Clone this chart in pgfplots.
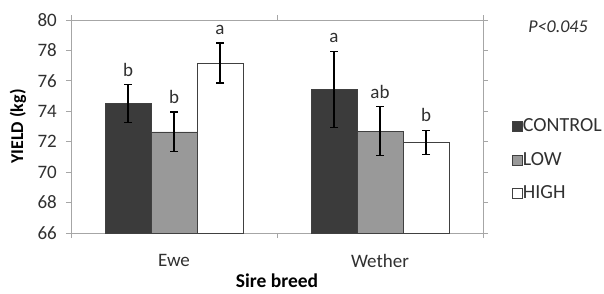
\documentclass[border=0pt]{standalone}
\usepackage{pgfplots}
\pgfplotsset{compat=1.18}
\usepackage{pgfplotstable}
\usepackage{fontspec}
\setmainfont{Carlito}
\definecolor{ctrl}{HTML}{3B3B3B}
\definecolor{lowc}{HTML}{999999}
\definecolor{axgray}{HTML}{A6A6A6}
\definecolor{txt}{HTML}{303030}

\pgfplotstableread{
x y err lab
0 74.5 1.25 b
1 75.45 2.5 a
}\ctrltab
\pgfplotstableread{
x y err lab
0 72.65 1.3 b
1 72.7 1.6 ab
}\lowtab
\pgfplotstableread{
x y err lab
0 77.17 1.32 a
1 71.95 0.8 b
}\hightab

\begin{document}
\fontsize{18}{21}\selectfont
\begin{tikzpicture}[x=1pt,y=1pt]
\useasboundingbox (0,0) rectangle (604,293);
\begin{axis}[
  at={(71pt,60pt)}, anchor=south west,
  scale only axis, width=412pt, height=213pt,
  xmin=-0.5, xmax=1.5, ymin=66, ymax=80,
  ytick={66,68,...,80},
  /pgf/number format/assume math mode=true,
  ybar=0pt, bar width=46pt,
  axis line style={axgray, line width=0.8pt},
  tick style={axgray, line width=0.8pt},
  tick align=outside, major tick length=5pt,
  xtick={-0.5,0.5,1.5}, xticklabels={},
  extra x ticks={0,1}, extra x tick labels={Ewe,Wether},
  extra x tick style={major tick length=0pt, xticklabel style={yshift=-15pt}},
  tick label style={text=txt, font=\fontsize{19}{22}\selectfont},
  yticklabel style={xshift=-3pt},
  ylabel={\textbf{YIELD (kg)}},
  ylabel style={at={(rel axis cs:-0.129,0.5)}, anchor=center, text=black},
  xlabel={\fontsize{19.5}{22}\selectfont\textbf{Sire breed}},
  xlabel style={at={(rel axis cs:0.5,-0.226)}, anchor=center, text=black},
  legend style={at={(rel axis cs:1.07,0.343)}, anchor=west, draw=none, fill=none,
    row sep=14pt, text=txt, inner sep=0pt, font=\fontsize{20}{22}\selectfont},
  legend cell align=left,
  legend image code/.code={\draw[#1] (0pt,-5pt) rectangle (10pt,5pt);},
  point meta=explicit symbolic,
  nodes near coords,
  visualization depends on={\thisrow{err} \as \myerr},
  every node near coord/.append style={shift={(axis direction cs:0,\myerr)}, anchor=base, yshift=8.5pt, text=txt, font=\fontsize{19}{22}\selectfont},
  error bars/y dir=both, error bars/y explicit,
  error bars/error bar style={black, line width=1.3pt},
  error bars/error mark options={rotate=90, mark size=4pt, black, line width=1.3pt},
]
\addplot[fill=ctrl, draw=black!75] table[x=x, y=y, y error=err, meta=lab]{\ctrltab};
\addlegendentry{\hspace{-1.5pt}CONTROL}
\addplot[fill=lowc, draw=black!75] table[x=x, y=y, y error=err, meta=lab]{\lowtab};
\addlegendentry{\hspace{-1.5pt}LOW}
\addplot[fill=white, draw=black!75] table[x=x, y=y, y error=err, meta=lab]{\hightab};
\addlegendentry{\hspace{-1.5pt}HIGH}
\end{axis}
\node[font=\itshape, text=txt] at (558,266) {P<0.045};
\end{tikzpicture}
\end{document}
